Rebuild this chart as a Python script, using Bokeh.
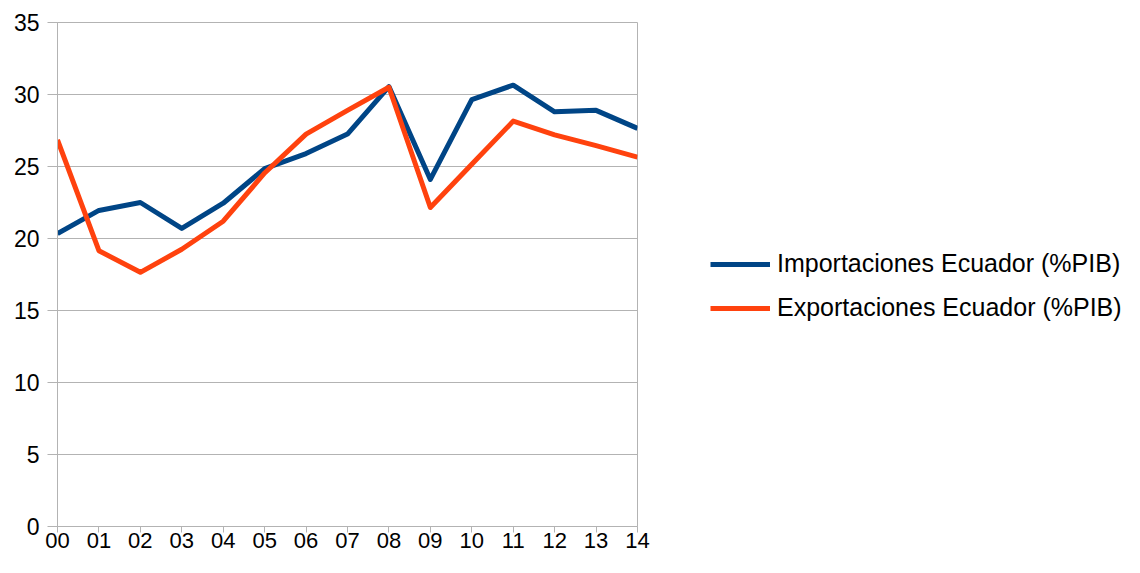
from bokeh.plotting import figure
from bokeh.models import Range1d, FixedTicker, Legend, LegendItem
from bokeh.embed import file_html
from bokeh.resources import INLINE

years = ["00", "01", "02", "03", "04", "05", "06", "07", "08", "09", "10", "11", "12", "13", "14"]
importaciones = [20.35, 21.95, 22.5, 20.7, 22.45, 24.85, 25.9, 27.25, 30.55, 24.1, 29.65, 30.65, 28.8, 28.9, 27.65]
exportaciones = [26.85, 19.15, 17.65, 19.25, 21.2, 24.55, 27.25, 28.9, 30.5, 22.15, 25.15, 28.15, 27.2, 26.45, 25.65]
y_ticks = [0, 5, 10, 15, 20, 25, 30, 35]

FONT = "Liberation Sans"
GRID = "#b3b3b3"

xs = list(range(len(years)))

p = figure(frame_width=580, frame_height=504, output_backend="svg", toolbar_location=None,
           x_range=Range1d(0, len(years) - 1), y_range=Range1d(0, 35),
           min_border_left=57, min_border_right=487, min_border_top=22,
           min_border_bottom=31)

p.background_fill_color = "white"
p.border_fill_color = "white"
p.outline_line_color = GRID
p.outline_line_width = 1

p.xgrid.visible = False
p.ygrid.grid_line_color = GRID
p.ygrid.grid_line_width = 1
p.ygrid.ticker = FixedTicker(ticks=y_ticks)

p.yaxis.ticker = FixedTicker(ticks=y_ticks)
p.xaxis.ticker = FixedTicker(ticks=xs)
p.xaxis.major_label_overrides = {i: y for i, y in enumerate(years)}

for ax in (p.xaxis, p.yaxis):
    ax.axis_line_color = GRID
    ax.major_tick_line_color = GRID
    ax.major_tick_in = 0
    ax.major_tick_out = 10
    ax.minor_tick_line_color = None
    ax.major_label_text_font = FONT
    ax.major_label_text_font_size = "23px"
    ax.major_label_text_color = "black"

p.yaxis.major_label_standoff = 8
p.xaxis.major_tick_out = 6
p.xaxis.major_label_standoff = 0
p.xaxis.major_label_text_font_size = "22px"

r1 = p.line(xs, importaciones, line_color="#004586", line_width=5, line_join="round")
r2 = p.line(xs, exportaciones, line_color="#ff420e", line_width=5, line_join="round")

legend = Legend(items=[LegendItem(label="Importaciones Ecuador (%PIB)", renderers=[r1]),
                       LegendItem(label="Exportaciones Ecuador (%PIB)", renderers=[r2])],
                location=(73, 204), padding=0, margin=0, spacing=15,
                glyph_width=60, glyph_height=26, label_height=26, label_standoff=7,
                label_text_font=FONT, label_text_font_size="25px", label_text_color="black",
                border_line_color=None, background_fill_alpha=0,
                orientation="vertical")
p.add_layout(legend, "right")

open("out.html", "w").write(file_html(p, INLINE))
